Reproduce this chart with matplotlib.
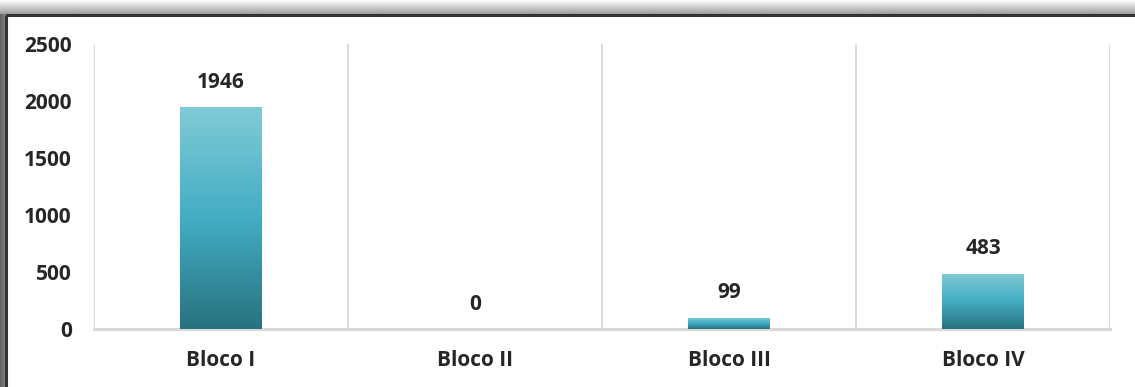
import numpy as np
import matplotlib
matplotlib.use("Agg")
import matplotlib.pyplot as plt
from matplotlib.colors import LinearSegmentedColormap

categories = ["Bloco I", "Bloco II", "Bloco III", "Bloco IV"]
values = [1946, 0, 99, 483]
yticks = [0, 500, 1000, 1500, 2000, 2500]

TEXT = "#262626"
GRID = "#d9d9d9"
plt.rcParams["font.family"] = ["Open Sans", "DejaVu Sans"]
FS = 15

W, H = 1135, 387
fig = plt.figure(figsize=(W / 100, H / 100), dpi=100)

# frame: grey shaded strip on top and left, dark edge line
bg = fig.add_axes([0, 0, 1, 1])
bg.axis("off")
top_shade = np.linspace(1.0, 0.62, 50).reshape(-1, 1)
bg.imshow(top_shade, cmap="gray", vmin=0, vmax=1, extent=[0, W, 14, 0], aspect="auto")
left_shade = np.linspace(0.38, 0.5, 20).reshape(1, -1)
bg.imshow(left_shade, cmap="gray", vmin=0, vmax=1, extent=[0, 5, H, 14], aspect="auto")
bg.plot([5, W], [15, 15], color="#333333", lw=2.2, solid_capstyle="butt")
bg.plot([6, 6], [15, H], color="#333333", lw=2.2, solid_capstyle="butt")
bg.set_xlim(0, W)
bg.set_ylim(H, 0)

ax = fig.add_axes([94 / W, 1 - 329 / H, (1110 - 94) / W, (329 - 44) / H])

cmap = LinearSegmentedColormap.from_list(
    "teal", [(0, "#28727f"), (0.5, "#43adc4"), (1, "#80cbd6")])
grad = np.linspace(0, 1, 256).reshape(-1, 1)

x = np.arange(len(categories))
bars = ax.bar(x, values, width=0.32, color="none", zorder=3)
for b, v in zip(bars, values):
    if v > 0:
        x0, w = b.get_x(), b.get_width()
        im = ax.imshow(grad, cmap=cmap, origin="lower", aspect="auto",
                       extent=[x0, x0 + w, 0, v], zorder=3)
        im.set_clip_path(b)
    ax.annotate(str(v), (b.get_x() + b.get_width() / 2, v), xytext=(0, 18),
                textcoords="offset points", ha="center", va="center",
                fontsize=FS, fontweight="bold", color=TEXT)
ax.set_xlim(-0.5, len(categories) - 0.5)
ax.set_ylim(0, 2500)

# vertical separators between categories
for xv in np.arange(-0.5, len(categories), 1.0):
    ax.axvline(xv, color=GRID, lw=1.3, zorder=1)

for s in ["top", "right", "left"]:
    ax.spines[s].set_visible(False)
ax.spines["bottom"].set_color(GRID)
ax.spines["bottom"].set_linewidth(2.2)

ax.set_xticks(x)
ax.set_xticklabels(categories)
ax.set_yticks(yticks)
ax.tick_params(axis="both", length=0, labelsize=FS, labelcolor=TEXT)
ax.tick_params(axis="y", pad=16)
ax.tick_params(axis="x", pad=15)
for lbl in ax.get_xticklabels() + ax.get_yticklabels():
    lbl.set_fontweight("bold")

fig.savefig("out.png", dpi=100)
